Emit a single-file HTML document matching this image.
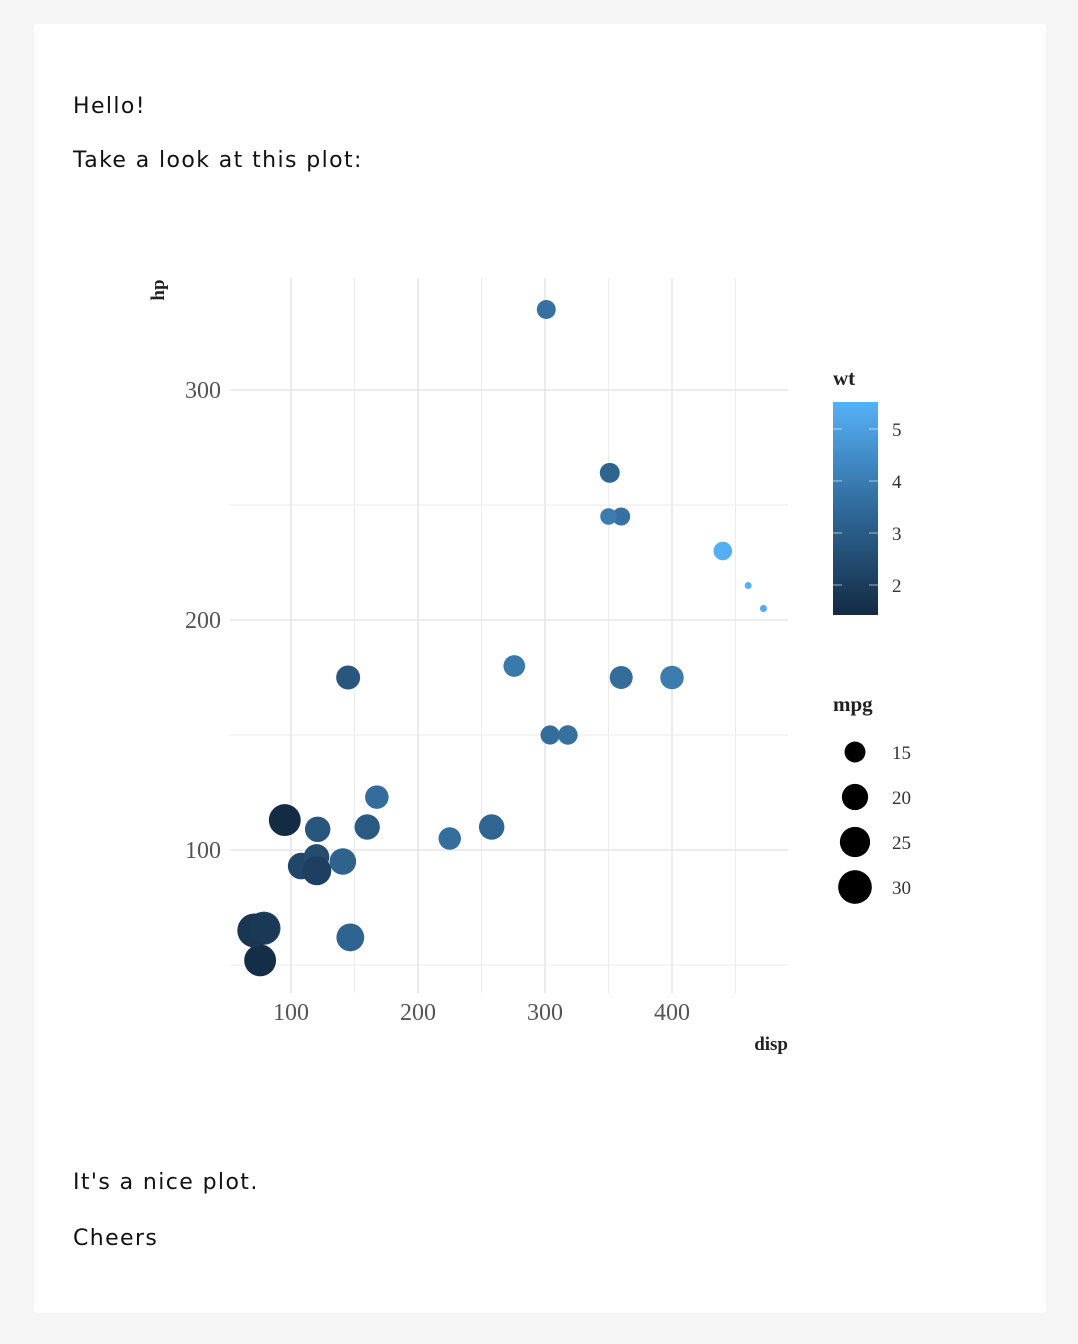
<!DOCTYPE html>
<html><head><meta charset="utf-8"><style>
body{margin:0;background:#f5f5f5;width:1078px;height:1344px;position:relative;font-family:"DejaVu Sans","Liberation Sans",sans-serif;}
.card{position:absolute;left:34px;top:24px;width:1012px;height:1289px;background:#fff;border-radius:4px;}
p{position:absolute;left:73px;margin:0;font-size:22px;color:#111;letter-spacing:1.4px}
svg{position:absolute;left:0;top:0}
</style></head><body>
<div class="card"></div>
<p style="top:94px">Hello!</p>
<p style="top:148px">Take a look at this plot:</p>
<p style="top:1170px">It's a nice plot.</p>
<p style="top:1226px">Cheers</p>
<svg id="chart" width="1078" height="1344" font-family="'Liberation Serif',serif">
<defs><linearGradient id="g" x1="0" y1="1" x2="0" y2="0">
<stop offset="0" stop-color="#132B43"/><stop offset="0.5" stop-color="#2f6a9a"/><stop offset="1" stop-color="#56B1F7"/></linearGradient></defs>
</svg>
<script>
const disp=[160,160,108,258,360,225,360,146.7,140.8,167.6,167.6,275.8,275.8,275.8,472,460,440,78.7,75.7,71.1,120.1,318,304,350,400,79,120.3,95.1,351,145,301,121];
const hp=[110,110,93,110,175,105,245,62,95,123,123,180,180,180,205,215,230,66,52,65,97,150,150,245,175,66,91,113,264,175,335,109];
const wt=[2.62,2.875,2.32,3.215,3.44,3.46,3.57,3.19,3.15,3.44,3.44,4.07,3.73,3.78,5.25,5.424,5.345,2.2,1.615,1.835,2.465,3.52,3.435,3.84,3.845,1.935,2.14,1.513,3.17,2.77,3.57,2.78];
const mpg=[21,21,22.8,21.4,18.7,18.1,14.3,24.4,22.8,19.2,17.8,16.4,17.3,15.2,10.4,10.4,14.7,32.4,30.4,33.9,21.5,15.5,15.2,13.3,19.2,27.3,26,30.4,15.8,19.7,15,21.4];
const xTicks=[100,200,300,400];
const yTicks=[100,200,300];
const wtTicks=[2,3,4,5];
const mpgTicks=[15,20,25,30];
const NS='http://www.w3.org/2000/svg';
const svg=document.getElementById('chart');
const X=v=>291+(v-100)*1.27;
const Y=v=>850-(v-100)*2.3;
const wMin=1.513,wMax=5.424,mMin=10.4,mMax=33.9;
const R=m=>3.5+13.5*Math.sqrt((m-mMin)/(mMax-mMin));
function col(w){const t=(w-wMin)/(wMax-wMin);const a=[19,43,67],b=[86,177,247];
return 'rgb('+a.map((v,i)=>Math.round(v+(b[i]-v)*t)).join(',')+')';}
function mk(tag,at,parent){const e=document.createElementNS(NS,tag);for(const k in at)e.setAttribute(k,at[k]);(parent||svg).appendChild(e);return e;}
const x0=230,x1=788,y0=278,y1=993;
[50,150,250].forEach(v=>{const l=mk('line',{x1:x0,x2:x1,y1:Y(v),y2:Y(v),stroke:'#ebebeb','stroke-width':1});
});
[150,250,350,450].forEach(v=>{const l=mk('line',{x1:X(v),x2:X(v),y1:y0,y2:y1,stroke:'#ebebeb','stroke-width':1});
});
yTicks.forEach(v=>{const l=mk('line',{x1:x0,x2:x1,y1:Y(v),y2:Y(v),stroke:'#e0e0e0','stroke-width':1.3});

const t=mk('text',{x:221,y:Y(v)+8,'text-anchor':'end','font-size':24,fill:'#555'});t.textContent=v;
});
xTicks.forEach(v=>{const l=mk('line',{x1:X(v),x2:X(v),y1:y0,y2:y1,stroke:'#e0e0e0','stroke-width':1.3});

const t=mk('text',{x:X(v),y:1020,'text-anchor':'middle','font-size':24,fill:'#555'});t.textContent=v;
});
const xt=mk('text',{x:788,y:1050,'text-anchor':'end','font-size':19,fill:'#222','font-weight':'bold'});xt.textContent='disp';

const yt=mk('text',{x:0,y:0,transform:'translate(164,290) rotate(-90)','text-anchor':'middle','font-size':19,fill:'#222','font-weight':'bold'});yt.textContent='hp';

disp.forEach((d,i)=>{const c=mk('circle',{cx:X(d),cy:Y(hp[i]),r:R(mpg[i]),fill:col(wt[i])});
});
const lt=mk('text',{x:833,y:385,'font-size':21,fill:'#222','font-weight':'bold'});lt.textContent='wt';

const bar=mk('rect',{x:833,y:402,width:45,height:213,fill:'url(#g)'});

const BY=v=>585-(v-2)*52;
wtTicks.forEach(v=>{mk('line',{x1:833,x2:842,y1:BY(v),y2:BY(v),stroke:'#fff','stroke-opacity':0.6});
mk('line',{x1:869,x2:878,y1:BY(v),y2:BY(v),stroke:'#fff','stroke-opacity':0.6});
const t=mk('text',{x:892,y:BY(v)+7,'font-size':19,fill:'#333'});t.textContent=v;
});
const mt=mk('text',{x:833,y:711,'font-size':21,fill:'#222','font-weight':'bold'});mt.textContent='mpg';

mpgTicks.forEach((v,i)=>{const cy=752+i*45;
const c=mk('circle',{cx:855,cy:cy,r:R(v)+1,fill:'#000'});

const t=mk('text',{x:892,y:cy+7,'font-size':19,fill:'#333'});t.textContent=v;
});
</script>
</body></html>
